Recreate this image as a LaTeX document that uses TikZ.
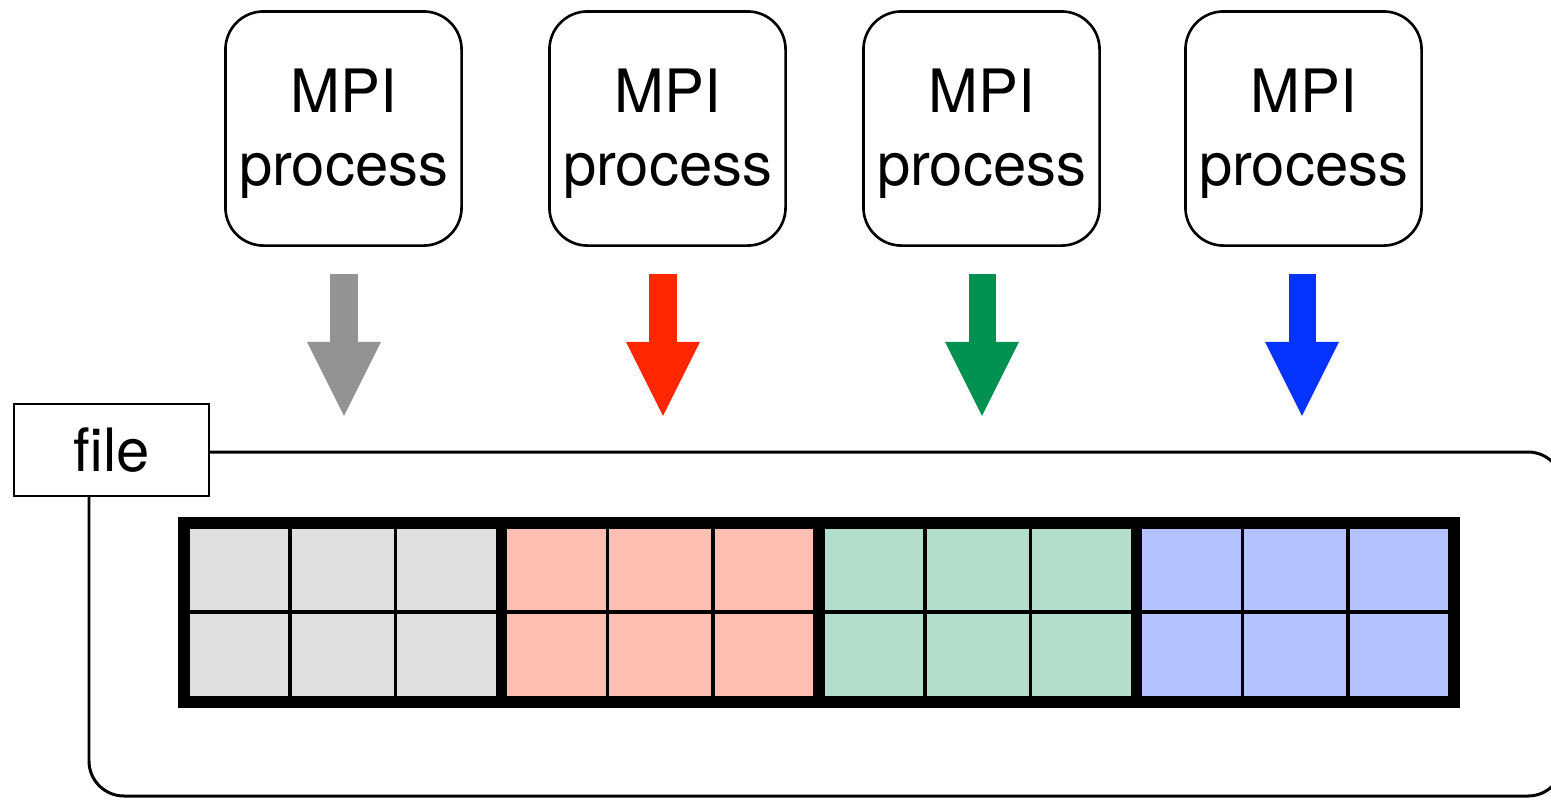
\documentclass[tikz,border=0pt]{standalone}
\usepackage{fontspec}
\setmainfont{TeX Gyre Heros}
\usetikzlibrary{arrows.meta}
\definecolor{tin}{RGB}{147,147,147}
\definecolor{rd}{RGB}{255,38,0}
\definecolor{gr}{RGB}{0,145,81}
\definecolor{bl}{RGB}{4,51,255}
\begin{document}
\begin{tikzpicture}[x=.01cm, y=-.01cm, font=\fontsize{17}{20.8}\selectfont,
  proc/.style={draw, line width=.75pt, rounded corners=.38cm, minimum width=2.36cm, minimum height=2.34cm, align=center, inner sep=0pt},
  flow/.style={draw=#1, line width=.27cm, -{Triangle[width=.74cm, length=.74cm, line width=0pt]}},
  filebox/.style={draw, fill=white, line width=.6pt, minimum width=1.95cm, minimum height=.92cm, inner sep=0pt},
  cell/.style={line width=1pt},
  block/.style={line width=3.4pt}]
\useasboundingbox (0,0) rectangle (1551,799);
\clip (0,0) rectangle (1551,799);
% processes and their writes
\foreach \i/\x/\ax/\c in {1/343.5/344/tin, 2/667.5/663/rd, 3/981.5/982/gr, 4/1303.5/1302/bl}{
  \node[proc] (p\i) at (\x,128.5) {\rule{0pt}{15.2pt}MPI\\process};
  \draw[flow=\c] ([shift={(\ax-\x,27)}]p\i.south) -- ([shift={(\ax-\x,169)}]p\i.south);
}
% file frame and label
\draw[line width=.85pt, rounded corners=.35cm] (89,452) rectangle (1563,796);
\node[filebox] (file) at (111.5,450) {file};
% blocks of the file
\foreach \k/\c in {0/tin, 1/rd, 2/gr, 3/bl}{
  \fill[\c!30] (184+317.5*\k,523) rectangle ++(317.5,179);
  \foreach \j in {1,2}
    \draw[cell] (184+317.5*\k+105.83*\j,523) -- ++(0,179);
}
\draw[cell] (184,612) -- (1454,612);
\draw[block] (184,523) rectangle (1454,702);
\foreach \k in {1,2,3}
  \draw[block] (184+317.5*\k,523) -- ++(0,179);
\end{tikzpicture}
\end{document}
